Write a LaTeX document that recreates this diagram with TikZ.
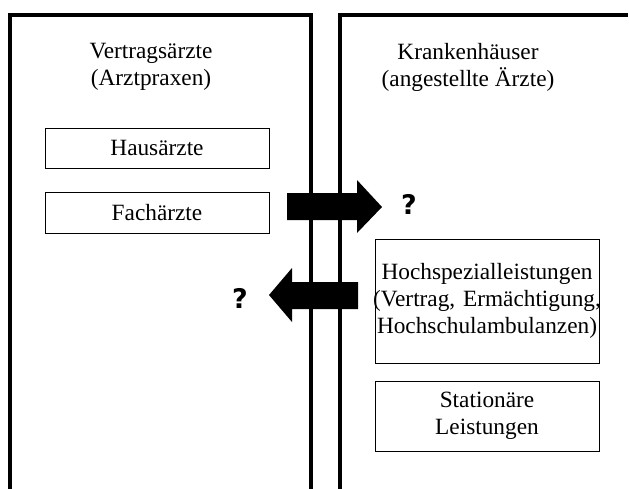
\documentclass[tikz,border=0pt]{standalone}
\usepackage{fontspec}
\setmainfont{Liberation Serif}
\newfontfamily\qfont{DejaVu Sans}
\usetikzlibrary{positioning}

\tikzset{
    panel/.style={line width=4pt},
    sectorbox/.style={draw, line width=0.8pt, minimum width=224pt, minimum height=40pt, align=center, inner sep=1pt},
    title/.style={align=center},
    query/.style={font=\qfont\bfseries\fontsize{27}{27}\selectfont},
    bigarrow/.style={fill=black}
}

\begin{document}
\begin{tikzpicture}[x=1pt,y=-1pt, font=\fontsize{23.3}{27}\selectfont]
    \useasboundingbox (0,0) rectangle (629,488);

    % Two sectors
    \draw[panel] (10,490) -- (10,15) -- (311,15) -- (311,490);
    \draw[panel] (340,490) -- (340,15) -- (628,15);

    % Sector titles
    \node[title] (ambulant) at (151,67) {Vertragsärzte\\(Arztpraxen)};
    \node[title] (stationaer) at (468,67) {Krankenhäuser\\(angestellte Ärzte)};

    % Left side
    \node[sectorbox] (haus) at (157,148) {Hausärzte};
    \node[sectorbox, minimum height=41pt] (fach) at (157,212.5) {Fachärzte};

    % Right side
    \node[sectorbox, text width=222pt, minimum height=124pt] (hochspez) at (487,301)
        {\hbox to 222pt{\hss\vbox{\halign{\hfil#\hfil\cr Hochspezialleistungen\cr(Vertrag, Ermächtigung,\cr Hochschulambulanzen)\cr}}\hss}};
    \node[sectorbox, minimum height=70pt] (leist) at (487,416) {Stationäre\\Leistungen};

    % Arrows across the sector border
    \fill[bigarrow] (287,193) -- (357,193) -- (357,180) -- (382,207)
        -- (357,233) -- (357,220) -- (287,220) -- cycle;
    \fill[bigarrow] (358,282) -- (292,282) -- (292,268) -- (269,295)
        -- (292,322) -- (292,309) -- (358,309) -- cycle;

    \node[query] (qright) at (409,204) {?};
    \node[query] (qleft) at (240,298) {?};
\end{tikzpicture}
\end{document}
